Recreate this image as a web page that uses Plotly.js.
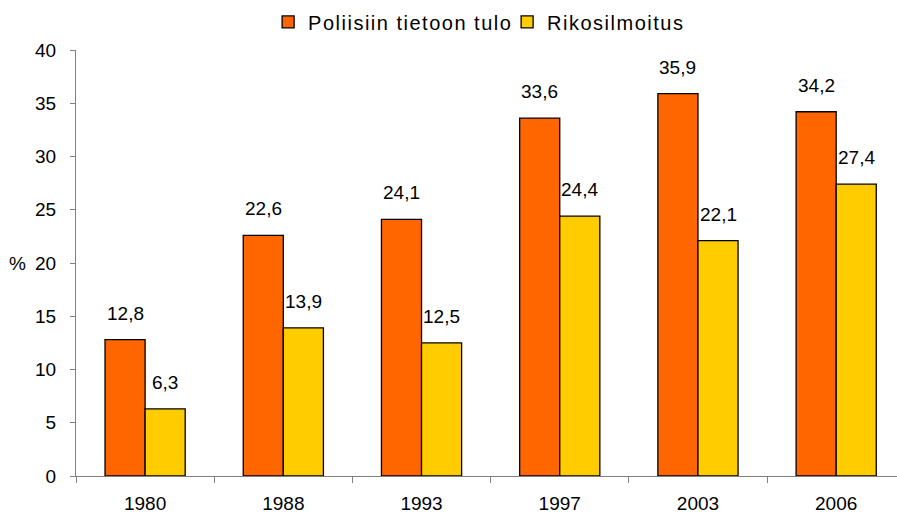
<!DOCTYPE html>
<html><head><meta charset="utf-8">
<script src="https://cdn.plot.ly/plotly-3.0.1.min.js"></script>
<style>body{margin:0;padding:0;background:#fff}#chart{width:897px;height:518px}
#chart .legend .legendtext{letter-spacing:1.5px}</style>
</head><body><div id="chart"></div>
<script>
const years = ['1980','1988','1993','1997','2003','2006'];
const poliisi = [12.8, 22.6, 24.1, 33.6, 35.9, 34.2];
const rikos = [6.3, 13.9, 12.5, 24.4, 22.1, 27.4];
const seriesNames = ['Poliisiin tietoon tulo', 'Rikosilmoitus'];
const yTicks = [0,5,10,15,20,25,30,35,40];

const FONT = 'Liberation Sans, Arial, sans-serif';
const FS = 19;
const fmt = v => v.toFixed(1).replace('.', ',');

const traces = [
  {type:'bar', name:seriesNames[0], x:years, y:poliisi,
   marker:{color:'#FF6600', line:{color:'#000', width:1.3}}},
  {type:'bar', name:seriesNames[1], x:years, y:rikos,
   marker:{color:'#FFCC00', line:{color:'#000', width:1.3}}}
];

const off = 0.145;
const annotations = [];
years.forEach((yr, i) => {
  annotations.push({x:i-off, y:poliisi[i], xref:'x', yref:'y', text:fmt(poliisi[i]),
    showarrow:false, yanchor:'bottom', yshift:14, font:{family:FONT, size:FS, color:'#000'}});
  annotations.push({x:i+off, y:rikos[i], xref:'x', yref:'y', text:fmt(rikos[i]),
    showarrow:false, yanchor:'bottom', yshift:14, font:{family:FONT, size:FS, color:'#000'}});
});
annotations.push({x:-0.071, xref:'paper', xanchor:'center', y:20, yref:'y', text:'%', showarrow:false,
  font:{family:FONT, size:FS, color:'#000'}});

const layout = {
  width:897, height:518,
  margin:{l:76, r:0, t:50, b:42},
  paper_bgcolor:'#fff', plot_bgcolor:'#fff',
  font:{family:FONT, size:FS, color:'#000'},
  barmode:'group', bargap:0.42, bargroupgap:0,
  showlegend:true,
  legend:{orientation:'h', x:0.234, xanchor:'left', y:1.066, yanchor:'middle',
    font:{family:FONT, size:20, color:'#000'}, itemwidth:30, tracegroupgap:0,
    entrywidth:194, entrywidthmode:'pixels',
    bgcolor:'rgba(0,0,0,0)'},
  xaxis:{type:'category', range:[-0.5, 5.44], showline:true, linecolor:'#808080', linewidth:1,
    ticks:'outside', tickson:'boundaries', ticklen:6, tickcolor:'#808080', ticklabelstandoff:10,
    showgrid:false, zeroline:false, tickfont:{family:FONT, size:FS, color:'#000'}, fixedrange:true},
  yaxis:{range:[0,40], tickvals:yTicks, ticktext:yTicks.map(String), showline:true, linecolor:'#808080',
    linewidth:1, ticks:'outside', ticklen:5, tickcolor:'#808080', ticklabelstandoff:10,
    showgrid:false, zeroline:false,
    tickfont:{family:FONT, size:FS, color:'#000'}},
  annotations:annotations
};
Plotly.newPlot('chart', traces, layout, {displayModeBar:false, staticPlot:true});
</script></body></html>
